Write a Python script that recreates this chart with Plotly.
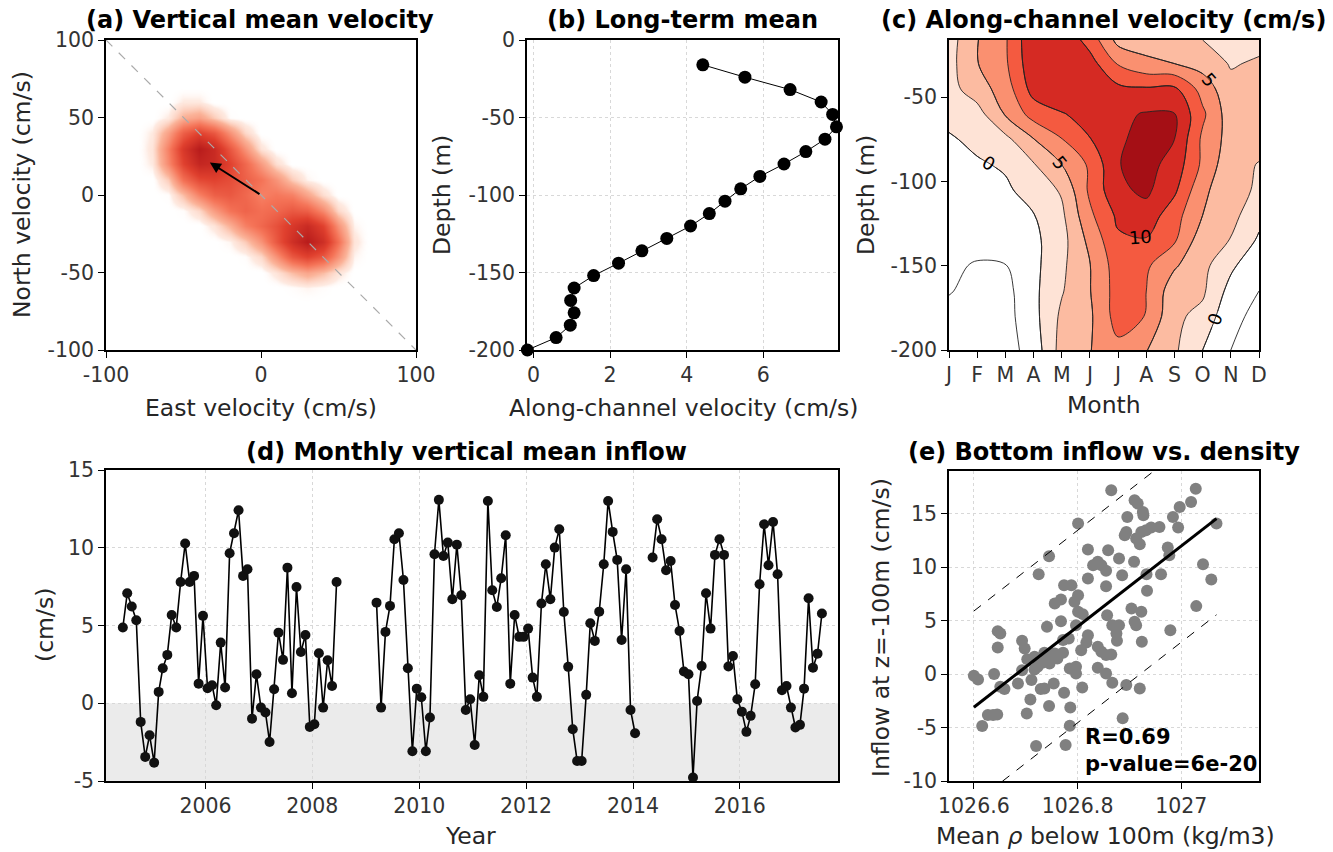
import pandas as pd
import plotly.graph_objects as go

W, H = 1333, 852
FONT = "DejaVu Sans"

# ---------------- (a) vertical mean velocity: density of (east, north) samples ----------------
a_east = [-80, -70, -60, -50, -40, -30, -20, -10, 0, 10, 20, 30, 40, 50, 60, 70]
a_north = [70, 60, 50, 40, 30, 20, 10, 0, -10, -20, -30, -40, -50, -60, -70]
a_density = [
    [0, 0, 0, 0, 0, 0, 0, 0, 0, 0, 0, 0, 0, 0, 0, 0],
    [0, 0, 0, 0.3, 0.3, 0, 0, 0, 0, 0, 0, 0, 0, 0, 0, 0],
    [0, 0, 0.3, 1.2, 1.5, 0.8, 0.1, 0, 0, 0, 0, 0, 0, 0, 0, 0],
    [0, 0.3, 1.5, 3.0, 3.8, 3.2, 1.8, 0.6, 0, 0, 0, 0, 0, 0, 0, 0],
    [0, 0.4, 2.2, 4.2, 5.5, 4.8, 3.2, 1.8, 0.4, 0, 0, 0, 0, 0, 0, 0],
    [0, 0.3, 2.0, 3.8, 5.0, 4.8, 3.8, 2.8, 1.6, 0.5, 0, 0, 0, 0, 0, 0],
    [0, 0, 0.8, 2.6, 3.6, 3.8, 3.5, 3.0, 2.5, 1.8, 0.8, 0.2, 0, 0, 0, 0],
    [0, 0, 0.1, 1.0, 2.2, 3.0, 3.2, 2.8, 2.2, 2.4, 2.2, 1.4, 0.5, 0, 0, 0],
    [0, 0, 0, 0.1, 0.6, 1.6, 2.5, 2.9, 2.6, 2.8, 3.2, 3.0, 2.0, 0.6, 0, 0],
    [0, 0, 0, 0, 0, 0.4, 1.2, 2.2, 2.8, 3.4, 4.2, 4.8, 3.8, 1.8, 0.2, 0],
    [0, 0, 0, 0, 0, 0, 0.2, 0.8, 1.8, 3.2, 4.6, 5.5, 4.6, 2.6, 0.4, 0],
    [0, 0, 0, 0, 0, 0, 0, 0.1, 0.6, 1.8, 3.2, 3.8, 3.2, 1.8, 0.2, 0],
    [0, 0, 0, 0, 0, 0, 0, 0, 0, 0.4, 1.0, 1.4, 1.0, 0.4, 0, 0],
    [0, 0, 0, 0, 0, 0, 0, 0, 0, 0, 0.1, 0.2, 0.1, 0, 0, 0],
    [0, 0, 0, 0, 0, 0, 0, 0, 0, 0, 0, 0, 0, 0, 0, 0],
]
a_mean_east = -33
a_mean_north = 21
a_axis_line = [-100, 100]

# ---------------- (b) long-term mean profile ----------------
b_depth = [-16, -24, -32, -40, -48, -56, -64, -72, -80, -88, -96, -104,
           -112, -120, -128, -136, -144, -152, -160, -168, -176, -184, -192, -200]
b_velocity = [4.42, 5.52, 6.70, 7.51, 7.81, 7.91, 7.61, 7.11, 6.54, 5.91, 5.41, 5.00,
              4.59, 4.10, 3.48, 2.83, 2.22, 1.57, 1.06, 0.97, 1.06, 0.96, 0.59, -0.16]

# ---------------- (c) monthly climatology of along-channel velocity ----------------
c_months = [1, 2, 3, 4, 5, 6, 7, 8, 9, 10, 11, 12]
c_month_labels = ["J", "F", "M", "A", "M", "J", "J", "A", "S", "O", "N", "D"]
c_depth = [-16, -30, -45, -60, -75, -90, -105, -120, -135, -150, -165, -180, -200]
c_velocity = [
    [1.4, 4.9, 7.2, 12.1, 12.0, 9.0, 4.2, 3.8, 3.2, 2.5, 2.1, 1.8],
    [1.6, 4.9, 7.1, 11.8, 12.3, 11.0, 7.3, 5.6, 5.0, 4.0, 2.3, 2.8],
    [1.6, 3.8, 6.2, 11.0, 12.2, 12.0, 10.6, 10.3, 10.5, 6.5, 3.2, 3.3],
    [0.8, 1.5, 5.2, 8.5, 9.8, 11.0, 12.0, 12.7, 12.6, 8.0, 3.6, 3.5],
    [-0.3, 0.6, 1.8, 4.9, 7.4, 9.9, 12.0, 13.6, 12.5, 7.0, 4.0, 3.2],
    [-1.0, -0.3, 0.3, 2.3, 5.0, 7.9, 12.4, 13.4, 11.5, 7.0, 3.2, 2.4],
    [-1.2, -0.8, -0.4, 1.0, 2.8, 8.0, 12.0, 13.0, 10.5, 5.5, 3.5, 2.1],
    [-1.5, -1.2, -0.8, -0.1, 2.0, 7.0, 10.5, 11.5, 8.5, 5.0, 3.3, 0.8],
    [-1.8, -1.7, -1.2, -0.6, 1.6, 5.7, 9.6, 9.8, 7.8, 3.5, 2.4, -0.4],
    [-2.1, -2.7, -2.6, -0.7, 2.0, 4.9, 8.8, 7.9, 5.3, 3.2, 0.5, -2.0],
    [-2.4, -3.0, -3.3, -0.6, 2.3, 4.9, 8.6, 7.5, 3.5, 2.9, -0.9, -2.5],
    [-3.0, -3.5, -3.4, -0.8, 3.0, 4.6, 8.6, 7.4, 3.0, 1.8, -2.0, -3.0],
    [-3.5, -4.0, -3.5, -1.5, 3.5, 4.9, 6.8, 5.1, 2.9, 0.0, -2.5, -3.5],
]

# ---------------- (d) monthly vertical mean inflow, Jun 2004 .. Jul 2017 ----------------
d_first_month = "2004-06-01"
d_inflow = [
    4.87, 7.07, 6.22, 5.34, -1.20, -3.45, -2.06,                                   # 2004 Jun-Dec
    -3.82, 0.73, 2.25, 3.11, 5.68, 4.87, 7.80, 10.27, 7.80, 8.19, 1.26, 5.62,       # 2005
    0.96, 1.16, -0.13, 3.90, 1.01, 9.65, 10.93, 12.41, 8.19, 8.62, -0.99, 1.86,     # 2006
    -0.28, -0.60, -2.49, 0.90, 4.54, 2.79, 8.72, 0.64, 7.48, 3.30, 4.39, -1.52,     # 2007
    -1.35, 3.22, -0.28, 2.77, 1.11, 7.80, None, None, None, None, None, None,       # 2008
    None, None, 6.47, -0.28, 4.59, 6.26, 10.55, 10.93, 7.93, 2.25, -3.09, 0.94,     # 2009
    0.39, -3.09, -0.92, 9.58, 13.08, 9.47, 10.33, 6.69, 10.20, 6.95, -0.43, 0.26,   # 2010
    -2.68, 1.80, 0.41, 13.01, 7.27, 6.19, 8.04, 10.80, 1.26, 5.68, 4.27, 4.27,      # 2011
    4.80, 1.65, 0.41, 6.41, 8.94, 6.69, 10.01, 11.19, 5.87, 2.34, -1.67, -3.71,     # 2012
    -3.71, 0.54, 5.14, 4.01, 5.89, 8.94, 13.01, 11.02, 9.22, 4.07, 8.62, -0.43,     # 2013
    -1.93, None, None, None, 9.37, 11.83, 10.55, 8.55, 9.15, 6.32, 4.65, 2.04,      # 2014
    1.86, -4.78, 0.15, 2.40, 7.07, 4.80, 9.54, 10.55, 9.54, 2.36, 3.04, 0.26,       # 2015
    -0.54, -1.84, -0.81, 1.22, 7.65, 11.51, 8.87, 11.66, 8.30, 0.84, 1.11, -0.28,   # 2016
    -1.56, -1.39, 0.94, 6.75, 2.29, 3.19, 5.77,                                     # 2017 Jan-Jul
]
d_year_ticks = [2006, 2008, 2010, 2012, 2014, 2016]

# ---------------- (e) bottom inflow vs density ----------------
e_rho = [
    1026.600, 1026.608, 1026.616, 1026.627, 1026.637, 1026.645, 1026.639, 1026.646, 1026.651, 1026.646,
    1026.651, 1026.659, 1026.685, 1026.693, 1026.698, 1026.703, 1026.693, 1026.702, 1026.709, 1026.711,
    1026.717, 1026.723, 1026.725, 1026.729, 1026.736, 1026.745, 1026.741, 1026.736, 1026.732, 1026.745,
    1026.720, 1026.754, 1026.756, 1026.768, 1026.768, 1026.774, 1026.788, 1026.772, 1026.783, 1026.772,
    1026.756, 1026.749, 1026.774, 1026.777, 1026.786, 1026.785, 1026.797, 1026.797, 1026.801, 1026.801,
    1026.794, 1026.801, 1026.810, 1026.807, 1026.809, 1026.820, 1026.820, 1026.820, 1026.817, 1026.830,
    1026.839, 1026.846, 1026.855, 1026.859, 1026.855, 1026.857, 1026.865, 1026.867, 1026.880, 1026.875,
    1026.876, 1026.839, 1026.846, 1026.855, 1026.865, 1026.839, 1026.855, 1026.867, 1026.880, 1026.886,
    1026.887, 1026.894, 1026.896, 1026.894, 1026.891, 1026.909, 1026.904, 1026.910, 1026.913, 1026.923,
    1026.924, 1026.920, 1026.910, 1026.916, 1026.926, 1026.927, 1026.913, 1026.920, 1026.923, 1026.932,
    1026.942, 1026.958, 1026.933, 1026.934, 1026.961, 1026.974, 1026.977, 1026.979, 1026.984, 1026.994,
    1026.997, 1027.019, 1027.028, 1027.029, 1027.042, 1027.058, 1027.068, 1026.746, 1026.761, 1026.717,
    1026.785, 1026.797,
]
e_inflow = [
    -0.16, -0.50, -4.86, -3.83, -3.83, -3.77, 0.00, 4.02, 3.80, 2.49,
    -1.18, -1.40, -0.87, 3.12, 2.40, 1.40, 0.37, -3.68, -2.37, -0.56,
    0.44, 0.69, 9.35, -1.40, -1.34, 11.03, 4.42, 1.99, 1.06, -2.99,
    -6.73, -0.87, 6.60, 6.98, 4.95, 8.32, 8.32, 3.18, 3.33, 1.99,
    1.93, 1.62, -1.74, -6.64, -3.12, -4.83, 0.69, 0.06, 14.08, 7.38,
    6.76, 5.83, 5.61, 2.24, -1.25, 11.65, 8.94, 3.64, 2.96, 10.19,
    10.50, 10.19, 9.66, 11.59, 8.22, 5.51, 17.20, 4.58, 4.58, 3.80,
    3.12, 2.55, 2.09, 1.78, 1.84, 0.59, 0.06, -0.81, 10.81, 9.25,
    -4.14, -1.03, 14.70, 13.30, 12.99, 10.50, 6.14, 4.89, 4.58, 5.83,
    3.02, -1.34, 16.26, 15.95, 15.17, 14.86, 12.68, 12.15, 13.30, 13.46,
    13.71, 13.77, 9.35, 7.79, 9.35, 11.84, 11.12, 4.11, 14.70, 13.71,
    15.64, 16.11, 17.35, 6.36, 10.28, 8.85, 14.08, 1.00, 1.46, 1.62,
    0.53, 4.58,
]
e_fit_rho = [1026.6, 1027.068]
e_fit_inflow = [-3.1, 14.55]
e_band_halfwidth = 9.0
e_r_text = "R=0.69"
e_p_text = "p-value=6e-20"

# ======================================================================
def px_x(px):
    return px / W


def px_y(py):
    return 1 - py / H


def dom_x(a, b):
    return [px_x(a), px_x(b)]


def dom_y(top, bottom):
    return [px_y(bottom), px_y(top)]


TICKFONT = dict(family=FONT, size=20.5, color="#333333")


def axis(domain, rng, anchor, tickvals, ticktext=None, grid=False, **kw):
    d = dict(domain=domain, range=rng, anchor=anchor, showline=True, linewidth=1.6,
             linecolor="black", mirror=True, ticks="outside", ticklen=6, tickwidth=1.2,
             tickcolor="black", tickfont=TICKFONT, showgrid=grid, gridcolor="#d8d8d8",
             griddash="dot", gridwidth=1, zeroline=False, automargin=False,
             tickmode="array", tickvals=tickvals,
             ticktext=ticktext if ticktext is not None else [f"{v:g}" for v in tickvals])
    d.update(kw)
    return d


fig = go.Figure()

# (a)
fig.add_trace(go.Heatmap(
    x=a_east, y=a_north, z=a_density, zsmooth="best", zmin=0, zmax=5.5,
    colorscale=[[0, "rgba(255,255,255,0)"], [0.05, "rgba(253,220,205,0.6)"],
                [0.2, "#fbb49a"], [0.45, "#f57458"], [0.7, "#e0402e"], [1, "#b81c1c"]],
    showscale=False, hoverinfo="skip", xaxis="x", yaxis="y"))
fig.add_trace(go.Scatter(
    x=a_axis_line, y=[-v for v in a_axis_line], mode="lines",
    line=dict(color="#aaaaaa", width=1.2, dash="dash"), xaxis="x", yaxis="y",
    hoverinfo="skip"))

# (b)
fig.add_trace(go.Scatter(
    x=b_velocity, y=b_depth, mode="lines+markers",
    line=dict(color="black", width=1), marker=dict(color="black", size=13),
    xaxis="x2", yaxis="y2", cliponaxis=False))

# (c)
c_scale = [[0 / 7, "#ffffff"], [1 / 7, "#ffffff"], [2 / 7, "#fee3d6"], [3 / 7, "#fcbba1"],
           [4 / 7, "#fa9070"], [5 / 7, "#f45a40"], [6 / 7, "#d52a23"], [7 / 7, "#a50f15"]]
fig.add_trace(go.Contour(
    x=c_months, y=c_depth, z=c_velocity, autocontour=False,
    contours=dict(start=-2.5, end=12.5, size=2.5, coloring="fill", showlines=True),
    colorscale=c_scale, line=dict(color="#222222", width=0.9), showscale=False,
    hoverinfo="skip", xaxis="x3", yaxis="y3"))
fig.add_trace(go.Contour(
    x=c_months, y=c_depth, z=c_velocity, autocontour=False,
    contours=dict(start=0, end=10, size=5, coloring="none", showlabels=True,
                  labelfont=dict(family=FONT, size=18, color="black")),
    line=dict(color="#222222", width=0.9), showscale=False, hoverinfo="skip",
    xaxis="x3", yaxis="y3"))

# (d)
d_dates = pd.date_range(d_first_month, periods=len(d_inflow), freq="MS") + pd.Timedelta(days=14)
fig.add_trace(go.Scatter(
    x=d_dates, y=d_inflow, mode="lines+markers", connectgaps=False,
    line=dict(color="black", width=1.6), marker=dict(color="#111111", size=10),
    xaxis="x4", yaxis="y4", cliponaxis=False))

# (e)
fig.add_trace(go.Scatter(
    x=e_rho, y=e_inflow, mode="markers", marker=dict(color="#808080", size=12),
    xaxis="x5", yaxis="y5"))
fig.add_trace(go.Scatter(
    x=e_fit_rho, y=e_fit_inflow, mode="lines", line=dict(color="black", width=3),
    xaxis="x5", yaxis="y5"))
for sgn in (1, -1):
    fig.add_trace(go.Scatter(
        x=e_fit_rho, y=[v + sgn * e_band_halfwidth for v in e_fit_inflow], mode="lines",
        line=dict(color="black", width=1, dash="dash"), xaxis="x5", yaxis="y5"))

# shaded negative area in (d)
fig.add_shape(type="rect", xref="x4 domain", yref="y4", x0=0, x1=1, y0=-5, y1=0,
              fillcolor="#ebebeb", line=dict(width=0), layer="below")

# arrow in (a)
annotations = [dict(x=a_mean_east, y=a_mean_north, ax=0, ay=0, xref="x", yref="y",
                    axref="x", ayref="y", showarrow=True, arrowhead=2, arrowsize=1.1,
                    arrowwidth=2, arrowcolor="black", text="")]


def ann(text, px, py, size=23.5, bold=False, angle=0, color="#262626", xanchor="center"):
    return dict(text=f"<b>{text}</b>" if bold else text, x=px_x(px), y=px_y(py),
                xref="paper", yref="paper", showarrow=False, textangle=angle,
                font=dict(family=FONT, size=size, color=color), xanchor=xanchor,
                yanchor="middle", borderpad=0)


annotations += [
    ann("(a) Vertical mean velocity", 260, 20, size=24, bold=True, color="black"),
    ann("(b) Long-term mean", 682, 20, size=24, bold=True, color="black"),
    ann("(c) Along-channel velocity (cm/s)", 1103, 20, size=24, bold=True, color="black"),
    ann("(d) Monthly vertical mean inflow", 466, 452, size=24, bold=True, color="black"),
    ann("(e) Bottom inflow vs. density", 1104, 452, size=24, bold=True, color="black"),
    ann("East velocity (cm/s)", 261, 408),
    ann("North velocity (cm/s)", 22, 195, angle=-90),
    ann("Along-channel velocity (cm/s)", 683, 408),
    ann("Depth (m)", 442, 195, angle=-90),
    ann("Month", 1104, 405),
    ann("Depth (m)", 866, 195, angle=-90),
    ann("Year", 471, 836),
    ann("(cm/s)", 45, 625, angle=-90),
    ann("Mean <i>ρ</i> below 100m (kg/m3)", 1105, 836),
    ann("Inflow at z=-100m (cm/s)", 881, 628, angle=-90),
    ann(e_r_text, 1084, 737, size=21, bold=True, color="black", xanchor="left"),
    ann(e_p_text, 1084, 764, size=21, bold=True, color="black", xanchor="left"),
]

top, bot = 40, 350
fig.update_layout(
    width=W, height=H, margin=dict(l=0, r=0, t=0, b=0),
    paper_bgcolor="white", plot_bgcolor="white", showlegend=False,
    font=dict(family=FONT, color="#262626"), template="none",
    xaxis=axis(dom_x(106, 416), [-100, 100], "y", [-100, 0, 100]),
    yaxis=axis(dom_y(top, bot), [-100, 100], "x", [-100, -50, 0, 50, 100]),
    xaxis2=axis(dom_x(527, 838), [-0.17, 7.95], "y2", [0, 2, 4, 6], grid=True),
    yaxis2=axis(dom_y(top, bot), [-200, 0], "x2", [-200, -150, -100, -50, 0], grid=True),
    xaxis3=axis(dom_x(949, 1259), [1, 12], "y3", c_months, c_month_labels),
    yaxis3=axis(dom_y(top, bot), [-200, -16], "x3", [-200, -150, -100, -50]),
    xaxis4=axis(dom_x(106, 838), ["2004-02-21", "2017-11-02"], "y4",
                [f"{y}-01-01" for y in d_year_ticks], [str(y) for y in d_year_ticks],
                grid=True, type="date"),
    yaxis4=axis(dom_y(470, 781), [-5, 15], "x4", [-5, 0, 5, 10, 15], grid=True),
    xaxis5=axis(dom_x(949, 1259), [1026.552, 1027.15], "y5", [1026.6, 1026.8, 1027.0],
                ["1026.6", "1026.8", "1027"], grid=True),
    yaxis5=axis(dom_y(471, 781), [-10, 19], "x5", [-10, -5, 0, 5, 10, 15], grid=True),
    annotations=annotations,
)

# the default page has an 8px body margin; remove it so the figure sits at (0, 0)
fig.write_html("out.html", config={"displayModeBar": False},
               post_script="document.body.style.margin='0px';document.body.style.padding='0px';")
